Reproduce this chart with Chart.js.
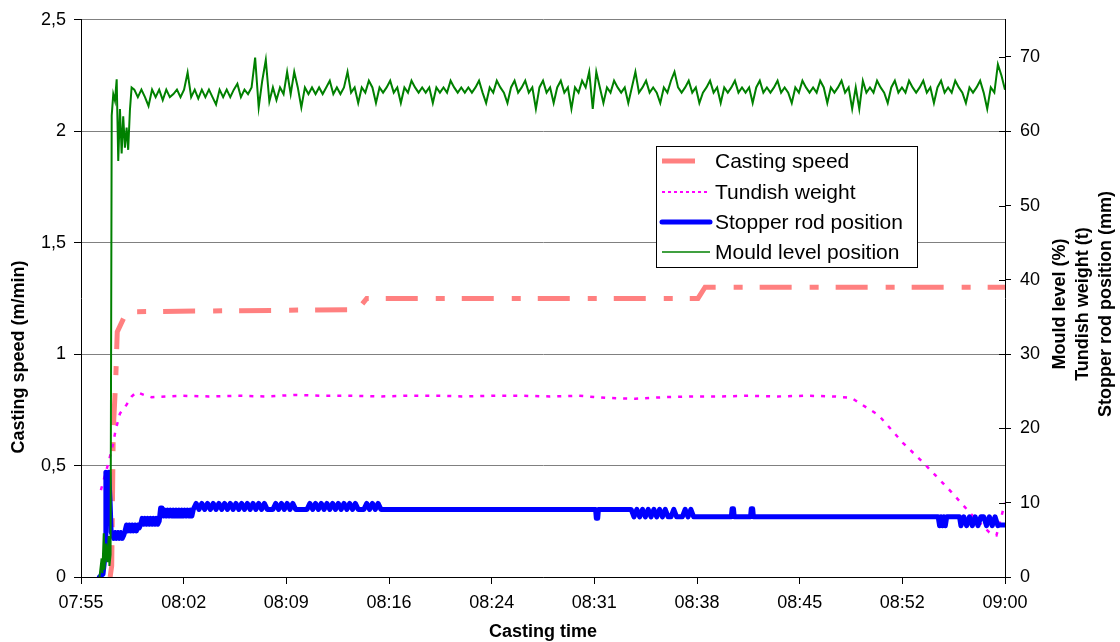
<!DOCTYPE html>
<html>
<head>
<meta charset="utf-8">
<title>Casting start</title>
<script src="https://cdn.jsdelivr.net/npm/chart.js@4.4.1/dist/chart.umd.min.js"></script>
<style>
  html, body { margin: 0; padding: 0; background: #fff; }
  #wrap { width: 1120px; height: 642px; }
</style>
</head>
<body>
<div id="wrap"><canvas id="castChart" width="1120" height="642"></canvas></div>
<script>
// x values are minutes after 07:55
const xTickLabels = ["07:55", "08:02", "08:09", "08:16", "08:24", "08:31", "08:38", "08:45", "08:52", "09:00"];
const xSpan = 65;
const speedTicks = [0, 0.5, 1, 1.5, 2, 2.5];
const speedTickLabels = ["0", "0,5", "1", "1,5", "2", "2,5"];
const rightTicks = [0, 10, 20, 30, 40, 50, 60, 70];

const seriesNames = ["Casting speed", "Tundish weight", "Stopper rod position", "Mould level position"];
const xTitle = "Casting time";
const leftTitle = "Casting speed (m/min)";
const rightTitles = ["Mould level (%)", "Tundish weight (t)", "Stopper rod position (mm)"];

// casting speed (m/min), left axis
const castTime = [2.05, 2.16, 2.27, 2.44, 2.55, 3.21, 19.47, 20.1, 43.4, 43.9, 65];
const castSpeed = [0, 0.05, 0.66, 0.88, 1.1, 1.19, 1.2, 1.25, 1.25, 1.3, 1.3];

// tundish weight (t), right axis
const tundishTime = [1.4, 1.92, 2.23, 2.44, 2.74, 3.21, 3.56, 3.91, 4.45, 4.97,
  7, 9, 11, 13, 15, 17, 19, 21, 23, 25, 27, 29, 31, 33, 35, 37, 39, 41, 43, 45, 47, 49, 51, 53,
  54.2, 56.1, 57.8, 59.4, 61.1, 62.7, 63.9, 64.4, 65];
const tundishWeight = [11.7, 15.3, 17.7, 19.8, 22.0, 23.2, 24.3, 24.9, 24.5, 24.2,
  24.4, 24.3, 24.4, 24.3, 24.5, 24.4, 24.4, 24.3, 24.4, 24.4, 24.3, 24.4, 24.4, 24.3, 24.4, 24.1, 24.0, 24.2, 24.3, 24.3, 24.4, 24.3, 24.4, 24.3,
  24.1, 21.8, 18.1, 15.1, 11.7, 8.3, 6.0, 5.6, 10.0];

// stopper rod position (mm), right axis
const stopperTime = [
  1.3, 1.55, 1.7, 1.75, 1.85, 1.95, 2.05, 2.12,
  2.2, 2.3, 2.4, 2.5, 2.6, 2.7, 2.8, 2.9, 3.0,
  3.1, 3.2, 3.3, 3.4, 3.5, 3.6, 3.7, 3.8, 3.9, 4.0, 4.1,
  4.2, 4.3, 4.4, 4.5, 4.6, 4.7, 4.8, 4.9, 5.0, 5.1, 5.2, 5.3, 5.4, 5.5,
  5.6, 5.7,
  5.8, 5.9, 6.0, 6.1, 6.2, 6.3, 6.4, 6.5, 6.6, 6.7, 6.8, 6.9, 7.0, 7.1, 7.2, 7.3, 7.4, 7.5, 7.6, 7.7, 7.8,
  7.9, 8.1, 8.3, 8.5, 8.7, 8.9, 9.1, 9.3, 9.5, 9.7,
  9.9, 10.1, 10.3, 10.5, 10.7, 10.9, 11.1, 11.3, 11.5, 11.7,
  11.9, 12.1, 12.3, 12.5, 12.7, 12.9, 13.1, 13.3, 13.5, 13.7,
  13.9, 14.1, 14.3, 14.5, 14.7, 14.9, 15.1, 15.3, 15.5, 15.7,
  15.9, 16.1, 16.3, 16.5, 16.7, 16.9, 17.1, 17.3, 17.5, 17.7,
  17.9, 18.1, 18.3, 18.5, 18.7, 18.9, 19.1, 19.3, 19.5, 19.7,
  19.9, 20.1, 20.3, 20.5, 20.7, 20.9, 21.1,
  21.3, 36.2, 36.25, 36.35, 36.4, 38.6,
  38.7, 38.9, 39.1, 39.3, 39.5, 39.7, 39.9, 40.1, 40.3, 40.5, 40.7, 40.9,
  41.1, 41.3, 41.5, 41.7, 41.9, 42.1, 42.3, 42.5, 42.7, 42.9, 43.1, 43.3,
  45.75, 45.8, 45.9, 45.95, 47.1, 47.15, 47.25, 47.3, 60.3,
  60.4, 60.5, 60.6, 60.7, 60.8, 60.9, 61.8,
  61.9, 62.1, 62.3, 62.5, 62.7, 62.9, 63.1, 63.3, 63.5, 63.7, 63.9, 64.1, 64.3, 64.5,
  64.6, 65
];
const stopperPos = [
  0, 0.4, 3, 14.1, 13.5, 14.1, 10, 6,
  6.0, 5.2, 6.0, 5.2, 6.0, 5.2, 6.0, 5.2, 5.6,
  6.2, 7.0, 6.2, 7.0, 6.2, 7.0, 6.2, 7.0, 6.2, 7.0, 6.6,
  7.1, 7.9, 7.1, 7.9, 7.1, 7.9, 7.1, 7.9, 7.1, 7.9, 7.1, 7.9, 7.1, 7.5,
  9.3, 9.3,
  8.2, 9.0, 8.2, 9.0, 8.2, 9.0, 8.2, 9.0, 8.2, 9.0, 8.2, 9.0, 8.2, 9.0, 8.2, 9.0, 8.2, 9.0, 8.2, 9.0, 8.2,
  9.1, 9.9, 9.1, 9.9, 9.1, 9.9, 9.1, 9.9, 9.1, 9.9,
  9.1, 9.9, 9.1, 9.9, 9.1, 9.9, 9.1, 9.9, 9.1, 9.9,
  9.1, 9.9, 9.1, 9.9, 9.1, 9.9, 9.1, 9.1, 9.1, 9.9,
  9.1, 9.9, 9.1, 9.9, 9.1, 9.9, 9.1, 9.1, 9.1, 9.1,
  9.1, 9.9, 9.1, 9.9, 9.1, 9.9, 9.1, 9.9, 9.1, 9.9,
  9.1, 9.9, 9.1, 9.9, 9.1, 9.9, 9.1, 9.9, 9.1, 9.1,
  9.1, 9.9, 9.1, 9.9, 9.1, 9.9, 9.1,
  9.1, 9.1, 7.9, 7.9, 9.1, 9.1,
  9.1, 8.1, 9.1, 8.1, 9.1, 8.1, 9.1, 8.1, 9.1, 8.1, 9.1, 8.1,
  9.1, 8.1, 8.1, 9.1, 8.1, 8.1, 8.1, 9.1, 8.1, 9.1, 8.1, 8.1,
  8.1, 9.2, 9.2, 8.1, 8.1, 9.2, 9.2, 8.1, 8.1,
  6.9, 8.1, 6.9, 8.1, 6.9, 8.1, 8.1,
  6.9, 8.1, 6.9, 8.1, 6.9, 8.1, 6.9, 8.1, 8.1, 6.9, 8.1, 6.9, 8.1, 6.9,
  7.0, 7.0
];

// mould level (%), right axis: start-up readings, then one reading every 15 s
const mouldStartTime = [1.3, 1.45, 1.5, 1.6, 1.65, 1.75, 1.85, 1.95, 2.0, 2.08, 2.16, 2.27, 2.39, 2.51, 2.62, 2.74, 2.86, 2.97, 3.09, 3.21, 3.32, 3.44, 3.56];
const mouldStartLevel = [0, 2.5, 0.5, 5.9, 1, 4.5, 2, 5.5, 1.5, 3, 62.1, 65.0, 64.1, 67.0, 56.0, 63.0, 57.0, 62.0, 57.8, 60.5, 57.5, 62.8, 65.9];
const mouldSampleFrom = 3.75;
const mouldSampleEvery = 0.25;
const mouldLevel = [
  65.6, 64.6, 65.6, 64.6, 63.4, 65.6, 64.6, 65.6, 64.2, 65.6, 64.6, 65.0, 65.6, 64.6, 65.6, 67.9, 64.6, 65.6, 64.4, 65.6,
  64.6, 65.6, 64.6, 63.6, 65.6, 64.6, 65.6, 64.6, 65.6, 66.4, 64.6, 65.6, 65.0, 65.9, 69.9, 63.2, 66.8, 69.6, 64.0, 65.9,
  64.2, 65.9, 65.0, 68.0, 65.0, 68.0, 65.9, 63.2, 65.9, 65.0, 65.9, 65.0, 65.9, 65.0, 65.9, 66.8, 65.0, 65.9, 65.0, 65.9,
  68.0, 65.2, 65.9, 63.8, 65.9, 65.2, 66.8, 65.9, 63.8, 65.9, 65.2, 65.9, 66.8, 65.2, 65.9, 63.8, 65.9, 65.2, 66.8, 65.9,
  65.2, 65.9, 65.2, 65.9, 63.8, 65.9, 65.2, 65.9, 65.2, 66.8, 65.9, 65.2, 65.9, 65.2, 65.9, 65.2, 65.9, 66.8, 65.2, 63.8,
  65.9, 65.2, 66.8, 65.9, 65.2, 63.8, 65.9, 66.8, 65.2, 65.9, 66.8, 65.2, 65.9, 63.0, 65.9, 66.8, 65.2, 65.9, 63.8, 65.9,
  66.8, 65.2, 65.9, 63.0, 65.9, 65.2, 66.8, 65.9, 68.0, 63.0, 68.0, 65.9, 63.8, 65.9, 65.2, 66.8, 65.9, 65.2, 65.9, 63.8,
  65.9, 68.0, 65.2, 65.9, 66.8, 65.2, 65.9, 65.2, 63.8, 65.9, 65.2, 66.8, 68.0, 65.9, 65.2, 65.9, 66.8, 65.2, 65.9, 63.8,
  65.2, 65.9, 66.8, 65.2, 65.9, 63.8, 65.9, 65.2, 65.9, 66.8, 65.2, 65.9, 65.2, 65.9, 63.8, 65.9, 66.8, 65.2, 65.9, 65.2,
  65.9, 66.8, 65.2, 65.9, 65.2, 63.8, 65.9, 65.2, 66.8, 65.9, 65.2, 65.9, 65.2, 66.8, 65.9, 63.8, 65.9, 65.2, 65.9, 66.8,
  65.2, 65.9, 63.0, 65.9, 63.0, 66.8, 65.2, 65.9, 65.2, 66.8, 65.9, 65.2, 63.8, 65.9, 66.8, 65.2, 65.9, 65.2, 66.8, 65.9,
  65.2, 65.9, 66.8, 65.2, 65.9, 63.8, 65.9, 66.8, 65.2, 65.9, 65.2, 66.8, 65.9, 65.2, 63.8, 65.9, 65.2, 65.9, 66.8, 65.2,
  63.0, 65.9, 65.2, 69.0, 67.5, 65.6
];

const FONT = '"Liberation Sans", Arial, sans-serif';
const toPoints = (xs, ys) => xs.map((x, i) => ({ x: x, y: ys[i] }));
const mouldPoints = toPoints(mouldStartTime, mouldStartLevel).concat(
  mouldLevel.map((v, i) => ({ x: mouldSampleFrom + i * mouldSampleEvery, y: v }))
);

Chart.defaults.font.family = FONT;
Chart.defaults.font.size = 18;
Chart.defaults.color = "#000";

// titles, legend box and the inner half of the right-axis ticks
const overlay = {
  id: "overlay",
  afterDraw(chart) {
    const ctx = chart.ctx;
    const area = chart.chartArea;
    const y2 = chart.scales.y2;
    ctx.save();

    ctx.strokeStyle = "#000";
    ctx.lineWidth = 1;
    y2.ticks.forEach((t) => {
      const y = Math.round(y2.getPixelForValue(t.value)) + 0.5;
      ctx.beginPath();
      ctx.moveTo(area.right - 6, y);
      ctx.lineTo(area.right, y);
      ctx.stroke();
    });

    ctx.fillStyle = "#000";
    ctx.font = "bold 18px " + FONT;
    ctx.textAlign = "center";
    ctx.textBaseline = "middle";
    ctx.fillText(xTitle, 543, 632);

    ctx.save();
    ctx.translate(19, 357);
    ctx.rotate(-Math.PI / 2);
    ctx.fillText(leftTitle, 0, 0);
    ctx.restore();

    rightTitles.forEach((txt, i) => {
      ctx.save();
      ctx.translate(1060 + i * 23, 304);
      ctx.rotate(-Math.PI / 2);
      ctx.fillText(txt, 0, 0);
      ctx.restore();
    });

    // legend
    ctx.fillStyle = "#fff";
    ctx.fillRect(656.5, 146.5, 261, 121);
    ctx.strokeStyle = "#000";
    ctx.strokeRect(656.5, 146.5, 261, 121);

    const rows = [161, 192, 222, 252];
    const styles = [
      { color: "#FF8080", width: 5, dash: [], end: 695, cap: "butt" },
      { color: "#FF00FF", width: 2, dash: [3, 3], end: 710, cap: "butt" },
      { color: "#0000FF", width: 5, dash: [], end: 710, cap: "round" },
      { color: "#008000", width: 1.5, dash: [], end: 710, cap: "butt" }
    ];
    styles.forEach((s, i) => {
      ctx.beginPath();
      ctx.strokeStyle = s.color;
      ctx.lineWidth = s.width;
      ctx.lineCap = s.cap;
      ctx.setLineDash(s.dash);
      ctx.moveTo(662, rows[i]);
      ctx.lineTo(s.end, rows[i]);
      ctx.stroke();
    });
    ctx.setLineDash([]);
    ctx.fillStyle = "#000";
    ctx.font = "21px " + FONT;
    ctx.textAlign = "left";
    seriesNames.forEach((name, i) => ctx.fillText(name, 715, rows[i] + 1));

    ctx.restore();
  }
};

new Chart(document.getElementById("castChart"), {
  type: "line",
  data: {
    datasets: [
      {
        label: seriesNames[0],
        data: toPoints(castTime, castSpeed),
        yAxisID: "y",
        borderColor: "#FF8080",
        borderWidth: 5,
        borderDash: [32, 18, 9, 17],
        borderCapStyle: "butt",
        order: 3
      },
      {
        label: seriesNames[1],
        data: toPoints(tundishTime, tundishWeight),
        yAxisID: "y2",
        borderColor: "#FF00FF",
        borderWidth: 2.5,
        borderDash: [4, 7],
        order: 2
      },
      {
        label: seriesNames[2],
        data: toPoints(stopperTime, stopperPos),
        yAxisID: "y2",
        borderColor: "#0000FF",
        borderWidth: 5,
        borderJoinStyle: "round",
        borderCapStyle: "round",
        order: 1
      },
      {
        label: seriesNames[3],
        data: mouldPoints,
        yAxisID: "y2",
        borderColor: "#008000",
        borderWidth: 2,
        order: 0
      }
    ]
  },
  options: {
    responsive: false,
    animation: false,
    layout: { padding: { top: 19, left: 0, right: 0, bottom: 0 } },
    elements: { point: { radius: 0 }, line: { tension: 0, fill: false } },
    plugins: { legend: { display: false }, tooltip: { enabled: false } },
    scales: {
      x: {
        type: "linear",
        min: 0,
        max: xSpan,
        afterBuildTicks: (s) => {
          s.ticks = xTickLabels.map((_, i) => ({ value: (i * xSpan) / (xTickLabels.length - 1) }));
        },
        afterFit: (s) => { s.height = 65; },
        ticks: { callback: (v, i) => xTickLabels[i], maxRotation: 0, autoSkip: false, padding: 8 },
        grid: { drawOnChartArea: false, drawTicks: true, tickLength: 7, tickColor: "#000" },
        border: { display: true, color: "#000" }
      },
      y: {
        position: "left",
        min: 0,
        max: 2.5,
        afterBuildTicks: (s) => { s.ticks = speedTicks.map((v) => ({ value: v })); },
        afterFit: (s) => { s.width = 81; },
        ticks: { callback: (v, i) => speedTickLabels[i], padding: 8 },
        grid: { color: "#808080", tickColor: "#000", tickLength: 7 },
        border: { display: true, color: "#000" }
      },
      y2: {
        position: "right",
        min: 0,
        max: 75,
        afterBuildTicks: (s) => { s.ticks = rightTicks.map((v) => ({ value: v })); },
        afterFit: (s) => { s.width = 115; },
        ticks: { padding: 9 },
        grid: { drawOnChartArea: false, tickColor: "#000", tickLength: 6 },
        border: { display: true, color: "#000" }
      }
    }
  },
  plugins: [overlay]
});
</script>
</body>
</html>
